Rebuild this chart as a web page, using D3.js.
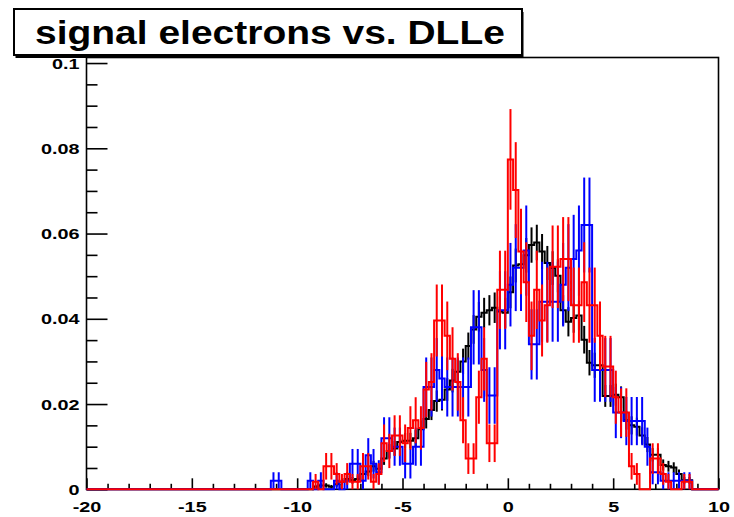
<!DOCTYPE html>
<html>
<head>
<meta charset="utf-8">
<script src="https://cdn.jsdelivr.net/npm/d3@7"></script>
<style>
  body { margin: 0; background: #fff; }
  text { font-family: "Liberation Sans", Arial, Helvetica, sans-serif; font-weight: bold; }
</style>
</head>
<body>
<svg id="chart" width="734" height="517"></svg>
<script>
// Histogram binning: 120 bins of 0.25 over [-20, 10]
const histLo = -20, histHi = 10, binWidth = 0.25;
// Left edge of the first listed bin; all bins outside the lists are empty
const dataStart = -11.5;

// Entries per bin starting at -11.5 (rows of 8 bins up to -2.75, then from -2.5)
const blackCounts = [
  0, 0, 0, 0, 0, 0, 0, 0,
  0, 2, 3, 3, 2, 4, 6, 8,
  7, 8, 12, 14, 18, 16, 24, 30,
  32, 37, 38, 38, 40, 47, 55, 62,
  69, 70, 78, 85, 92,
  100, 112, 125, 135, 138, 140, 142, 139,
  138, 154, 175, 176, 183, 191, 193, 186,
  177, 173, 167, 140, 131, 134, 136, 117,
  99, 97, 97, 73, 73, 74, 72, 54,
  50, 49, 42, 35, 27, 27, 19, 18,
  17, 12, 7, 7, 0, 0
];
const blueCounts = [
  0, 1, 1, 0, 0, 0, 0, 0,
  1, 0, 1, 0, 0, 1, 0, 1,
  3, 3, 1, 4, 3, 2, 6, 6,
  5, 5, 3, 3, 5, 5, 12, 12,
  14, 13, 12, 12, 12,
  12, 12, 19, 19, 14, 11, 11, 21,
  21, 24, 26, 26, 28, 17, 17, 22,
  22, 22, 22, 24, 26, 27, 28, 31,
  31, 14, 14, 14, 14, 9, 9, 8,
  8, 8, 8, 5, 2, 2, 1, 1,
  1, 1, 1, 1, 0, 0
];
const redCounts = [
  0, 0, 0, 0, 0, 0, 0, 0,
  0, 1, 0, 3, 3, 2, 1, 2,
  1, 1, 3, 3, 1, 2, 6, 5,
  7, 7, 6, 8, 9, 8, 13, 14,
  22, 22, 20, 17, 14,
  9, 4, 4, 12, 17, 6, 6, 26,
  26, 43, 39, 31, 27, 20, 26, 22,
  24, 29, 29, 30, 30, 24, 24, 27,
  24, 24, 20, 16, 16, 12, 10, 10,
  3, 2, 0, 0, 4, 4, 2, 1,
  0, 0, 1, 1, 0, 0
];
// Normalisation weight of one entry in each sample
const blackWeight = 0.0003;
const blueWeight = 0.002;
const redWeight = 0.0018;

const xTicks = [-20, -15, -10, -5, 0, 5, 10];
const xTickLabels = ["-20", "-15", "-10", "-5", "0", "5", "10"];
const xMinorTicks = d3.range(-19, 10, 1).filter(v => v % 5 !== 0);
const yTicks = [0, 0.02, 0.04, 0.06, 0.08, 0.1];
const yTickLabels = ["0", "0.02", "0.04", "0.06", "0.08", "0.1"];
const yMinorTicks = d3.range(0.005, 0.1, 0.005).filter((v, i) => (i + 1) % 4 !== 0);
const title = "signal electrons vs. DLLe";

const svg = d3.select("#chart");
const frame = { left: 86.5, right: 718.5, top: 57.5, bottom: 489.3 };
const x = d3.scaleLinear().domain([histLo, histHi]).range([frame.left, frame.right]);
const y = d3.scaleLinear().domain([0, 0.1013]).range([frame.bottom, frame.top]);

const labelStretch = 1.28;

// Frame
svg.append("rect")
  .attr("x", frame.left).attr("y", frame.top)
  .attr("width", frame.right - frame.left).attr("height", frame.bottom - frame.top)
  .attr("fill", "none").attr("stroke", "#000").attr("stroke-width", 1.6);

// Y axis: inward ticks, labels left of the axis
const yAxis = d3.axisLeft(y).tickValues(yTicks)
  .tickFormat((d, i) => yTickLabels[i]).tickSize(-21).tickPadding(7 / labelStretch);
const gy = svg.append("g").attr("transform", `translate(${frame.left},0)`).call(yAxis);
const yMinor = d3.axisLeft(y).tickValues(yMinorTicks).tickFormat("").tickSize(-11);
const gym = svg.append("g").attr("transform", `translate(${frame.left},0)`).call(yMinor);

// X axis: ticks pointing up into the frame
const xAxis = d3.axisBottom(x).tickValues(xTicks)
  .tickFormat((d, i) => xTickLabels[i]).tickSize(-11).tickPadding(11.5);
const gx = svg.append("g").attr("transform", `translate(0,${frame.bottom})`).call(xAxis);
const xMinor = d3.axisBottom(x).tickValues(xMinorTicks).tickFormat("").tickSize(-5.5);
const gxm = svg.append("g").attr("transform", `translate(0,${frame.bottom})`).call(xMinor);

[gy, gym, gx, gxm].forEach(g => {
  g.select(".domain").remove();
  g.selectAll(".tick line").attr("stroke", "#000").attr("stroke-width", 1.6);
  g.selectAll(".tick text")
    .attr("fill", "#000")
    .style("font-size", "15.5px")
    .attr("transform", `scale(${labelStretch},1)`);
});

// Histograms: step outline plus Poisson error bars at bin centres
const nBins = Math.round((histHi - histLo) / binWidth);
const offset = Math.round((dataStart - histLo) / binWidth);

function buildBins(counts, weight) {
  return d3.range(nBins).map(j => {
    const k = j - offset;
    const n = (k >= 0 && k < counts.length) ? counts[k] : 0;
    const lo = histLo + j * binWidth;
    return { lo, hi: lo + binWidth, n, value: n * weight, err: Math.sqrt(n) * weight };
  });
}

const stepLine = d3.line()
  .x(d => x(d[0])).y(d => y(d[1]))
  .curve(d3.curveStepAfter);

function drawHist(counts, weight, color) {
  const bins = buildBins(counts, weight);
  const pts = bins.map(b => [b.lo, b.value]);
  pts.push([histHi, bins[bins.length - 1].value]);
  const g = svg.append("g");
  g.append("path")
    .attr("d", stepLine(pts))
    .attr("fill", "none").attr("stroke", color).attr("stroke-width", 2);
  g.selectAll("line.err")
    .data(bins.filter(b => b.n > 0))
    .join("line")
    .attr("class", "err")
    .attr("x1", b => x((b.lo + b.hi) / 2)).attr("x2", b => x((b.lo + b.hi) / 2))
    .attr("y1", b => y(Math.max(0, b.value - b.err)))
    .attr("y2", b => y(b.value + b.err))
    .attr("stroke", color).attr("stroke-width", 2);
}

drawHist(blackCounts, blackWeight, "#000000");
drawHist(blueCounts, blueWeight, "#0000ff");
drawHist(redCounts, redWeight, "#ff0000");

// Title pave with drop shadow
const pave = { x: 14, y: 9, w: 508, h: 46 };
svg.append("rect")
  .attr("x", pave.x + 1.5).attr("y", pave.y + 3)
  .attr("width", pave.w).attr("height", pave.h)
  .attr("fill", "#000");
svg.append("rect")
  .attr("x", pave.x).attr("y", pave.y)
  .attr("width", pave.w).attr("height", pave.h)
  .attr("fill", "#fff").attr("stroke", "#000").attr("stroke-width", 2);
const t = svg.append("text")
  .attr("x", 0).attr("y", 0)
  .style("font-size", "34px")
  .attr("fill", "#000")
  .text(title);
const natural = t.node().getComputedTextLength();
const titleScale = 470 / natural;
t.attr("transform", `translate(35,44) scale(${titleScale},1)`);
</script>
</body>
</html>
